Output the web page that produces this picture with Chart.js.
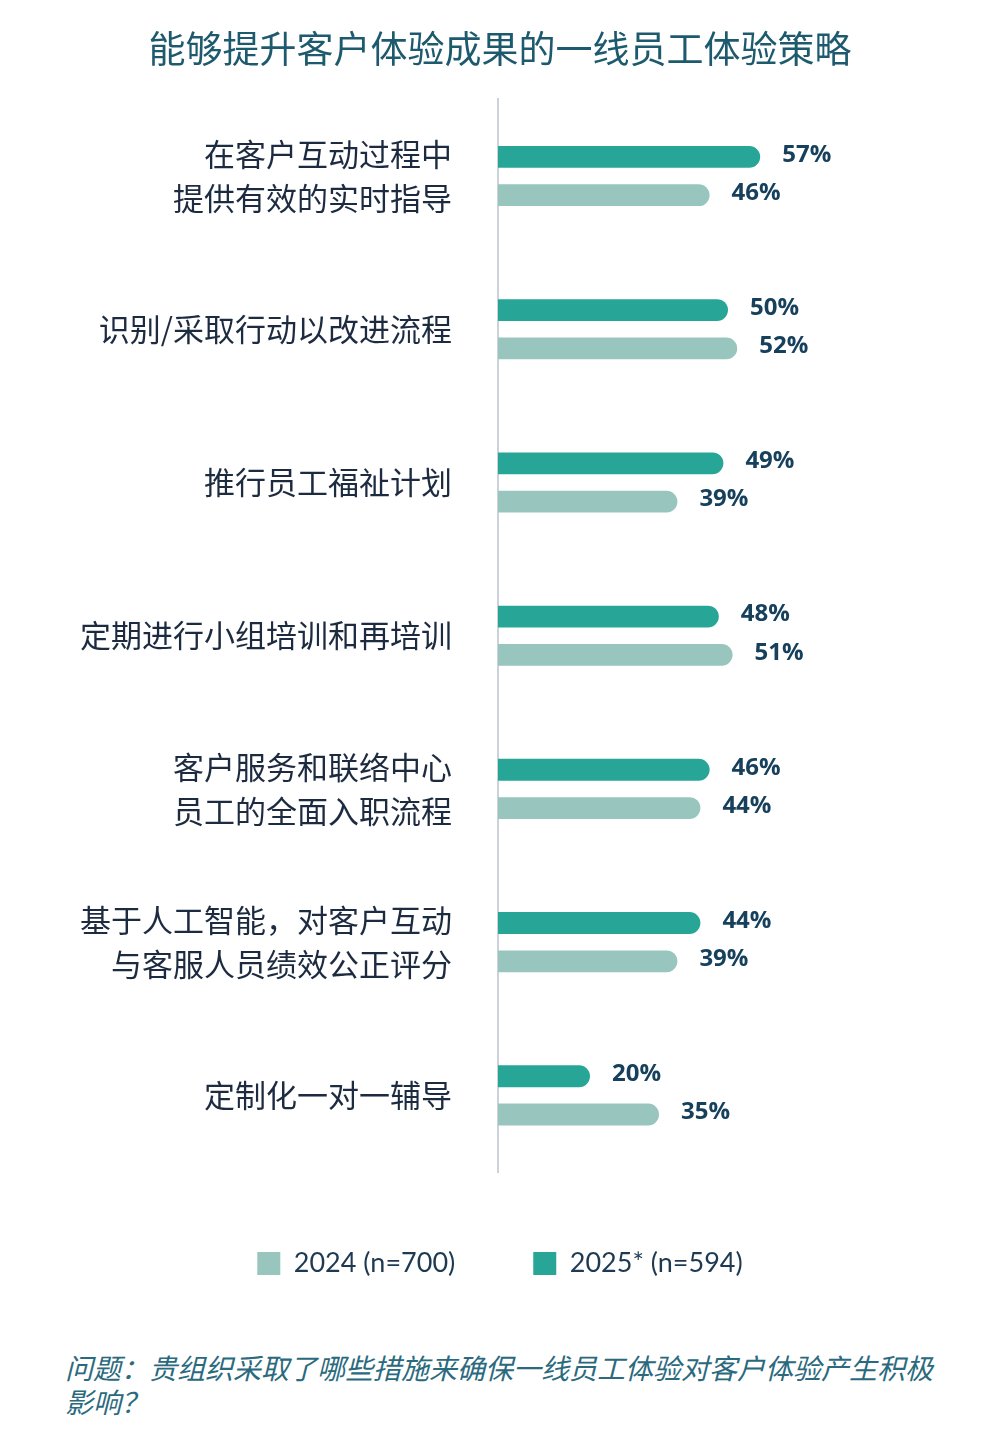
<!DOCTYPE html>
<html>
<head>
<meta charset="utf-8">
<script src="https://cdn.jsdelivr.net/npm/chart.js@4"></script>
<style>
  body { margin: 0; background: #fff; width: 1000px; height: 1450px; position: relative; }
  #wrap { position: absolute; left: 0; top: 0; width: 1000px; height: 1320px; }
  #note {
    position: absolute; left: 65px; top: 1350px; width: 885px;
    font-family: "Noto Sans CJK SC", sans-serif; font-style: italic;
    font-size: 28px; line-height: 34px; color: #2b6a7e; margin: 0;
  }
</style>
</head>
<body>
<div id="wrap"><canvas id="chart"></canvas></div>
<p id="note">问题：贵组织采取了哪些措施来确保一线员工体验对客户体验产生积极影响？</p>
<script>
// 数据
const categories = [
    ['在客户互动过程中', '提供有效的实时指导'],
    '识别/采取行动以改进流程',
    '推行员工福祉计划',
    '定期进行小组培训和再培训',
    ['客户服务和联络中心', '员工的全面入职流程'],
    ['基于人工智能，对客户互动', '与客服人员绩效公正评分'],
    '定制化一对一辅导'
];
const values2025 = [57, 50, 49, 48, 46, 44, 20];
const values2024 = [46, 52, 39, 51, 44, 39, 35];
const label2025 = '2025* (n=594)';
const label2024 = '2024 (n=700)';

// 数值标签
const valueLabels = {
    id: 'valueLabels',
    afterDatasetsDraw(chart) {
        const ctx = chart.ctx;
        ctx.save();
        ctx.font = 'bold 24px "Open Sans", sans-serif';
        ctx.fillStyle = '#17405c';
        ctx.textBaseline = 'middle';
        ctx.textAlign = 'left';
        chart.data.datasets.forEach((ds, i) => {
            chart.getDatasetMeta(i).data.forEach((bar, j) => {
                ctx.fillText(ds.data[j] + '%', bar.x + 22, bar.y - 2);
            });
        });
        ctx.restore();
    }
};

const ctx = document.getElementById('chart').getContext('2d');
new Chart(ctx, {
    type: 'bar',
    data: {
        labels: categories,
        datasets: [{
            label: label2025,
            data: values2025,
            backgroundColor: '#27a697'
        }, {
            label: label2024,
            data: values2024,
            backgroundColor: '#98c5bd'
        }]
    },
    options: {
        indexAxis: 'y',
        responsive: true,
        maintainAspectRatio: false,
        animation: false,
        categoryPercentage: 0.5,
        barPercentage: 0.57,
        borderRadius: 11,
        borderSkipped: 'start',
        layout: {
            padding: { left: 42, right: 42, top: 0, bottom: 33 }
        },
        plugins: {
            title: {
                display: true,
                text: '能够提升客户体验成果的一线员工体验策略',
                color: '#1d5a6e',
                font: { family: '"Noto Sans CJK SC", sans-serif', size: 37, weight: 'normal' },
                padding: { top: 27, bottom: 28 }
            },
            legend: {
                position: 'bottom',
                reverse: true,
                labels: {
                    color: '#1d3a52',
                    font: { family: 'Lato, "Noto Sans", sans-serif', size: 27 },
                    boxWidth: 23,
                    boxHeight: 23,
                    padding: 78
                }
            },
            tooltip: { enabled: false }
        },
        scales: {
            x: {
                min: 0,
                max: 100,
                display: false
            },
            y: {
                grid: { display: false },
                border: { display: true, color: '#cdd2da', width: 2 },
                ticks: {
                    color: '#1d2b40',
                    padding: 38,
                    font: { family: '"Noto Sans CJK SC", sans-serif', size: 31, lineHeight: 1.42 }
                }
            }
        }
    },
    plugins: [valueLabels]
});
</script>
</body>
</html>
